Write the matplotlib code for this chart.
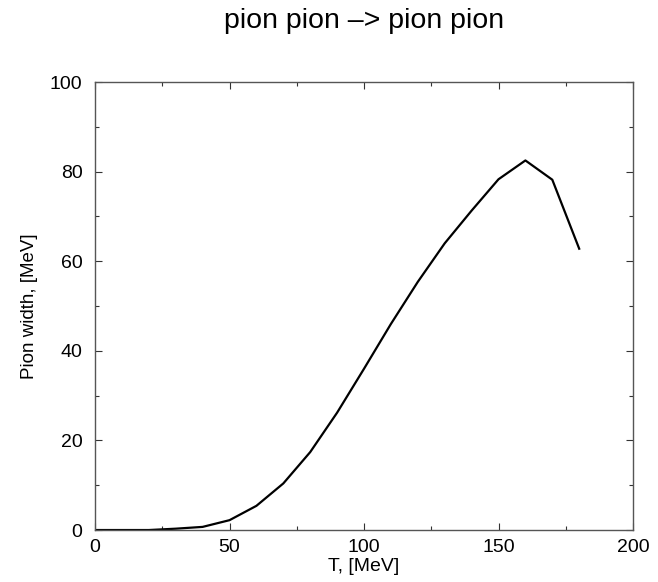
import matplotlib
matplotlib.use('Agg')
import matplotlib.pyplot as plt
from matplotlib.ticker import MultipleLocator

plt.rcParams['font.family'] = ['Liberation Sans', 'DejaVu Sans']

# temperature [MeV] and pion width [MeV]
temp = [0, 10, 20, 30, 40, 50, 60, 70, 80, 90, 100, 110, 120, 130, 140, 150, 160, 170, 180]
width = [0, 0, 0, 0.3, 0.7, 2.2, 5.4, 10.4, 17.4, 26.2, 36.0, 46.0, 55.4, 64.0, 71.3, 78.3, 82.5, 78.2, 62.8]

fig = plt.figure(figsize=(6.58, 5.82), dpi=100)
ax = fig.add_axes([0.1444, 0.0893, 0.8176, 0.7697])

ax.plot(temp, width, color='black', lw=1.6)

ax.set_xlim(0, 200)
ax.set_ylim(0, 100)
ax.xaxis.set_major_locator(MultipleLocator(50))
ax.xaxis.set_minor_locator(MultipleLocator(25))
ax.yaxis.set_major_locator(MultipleLocator(20))
ax.yaxis.set_minor_locator(MultipleLocator(10))
ax.tick_params(which='both', direction='in', top=True, right=True,
               color='#333333', width=0.8)
ax.tick_params(which='major', length=5, labelsize=14)
ax.tick_params(which='minor', length=3)
ax.tick_params(axis='x', which='major', pad=6.5)
ax.tick_params(axis='y', which='major', pad=9)
for s in ax.spines.values():
    s.set_color('#555555')
    s.set_linewidth(1.0)

ax.set_xlabel('T, [MeV]', fontsize=14)
ax.set_ylabel('Pion width, [MeV]', fontsize=13.5)
ax.xaxis.set_label_coords(0.5, -0.0625)
ax.yaxis.set_label_coords(-0.106, 0.5)

fig.text(0.553, 0.952, 'pion pion \u2013> pion pion', fontsize=20.5,
         ha='center', va='baseline')

fig.savefig('out.png', dpi=100)
